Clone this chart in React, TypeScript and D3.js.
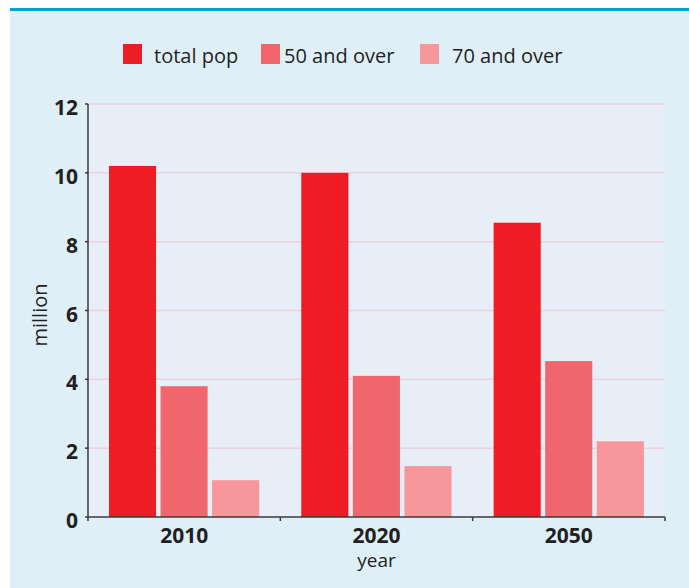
import React from "react";
import * as d3 from "d3";

const years = ["2010", "2020", "2050"];
const seriesNames = ["total pop", "50 and over", "70 and over"];
const totalPop = [10.2, 10.0, 8.55];
const over50 = [3.8, 4.1, 4.53];
const over70 = [1.07, 1.48, 2.2];
const yTicks = [0, 2, 4, 6, 8, 10, 12];
const colors = ["#ee1c25", "#f1666d", "#f7979c"];

const W = 689;
const H = 588;
const plot = { left: 88, right: 665, top: 104, bottom: 517 };
const legendPos = [
  { sx: 123, tx: 154 },
  { sx: 261, tx: 284 },
  { sx: 420, tx: 452 },
];
const FONT = "'Open Sans', 'DejaVu Sans', sans-serif";
const TEXT = "#231f20";
const AXIS = "#3a3a3a";

export default function App() {
  const series = [totalPop, over50, over70];
  const x0 = d3.scaleBand<string>().domain(years).range([plot.left, plot.right]).padding(0);
  const bw = x0.bandwidth();
  const x1 = d3
    .scaleBand<number>()
    .domain([0, 1, 2])
    .range([bw * 0.109, bw * 0.89])
    .paddingInner(0.087)
    .paddingOuter(0);
  const y = d3.scaleLinear().domain([0, 12]).range([plot.bottom, plot.top]);

  const boundaries = [...years.map((d) => x0(d)!), plot.right];

  return (
    <svg
      width={W}
      height={H}
      style={{ position: "absolute", left: 0, top: 0, display: "block" }}
      fontFamily={FONT}
    >
      <rect x={0} y={0} width={W} height={H} fill="#ffffff" />
      <rect x={10} y={8} width={W - 10} height={H - 8} fill="#dfeff8" />
      <rect x={10} y={8} width={W - 10} height={3} fill="#009fda" />

      {/* legend */}
      {seriesNames.map((name, i) => (
        <g key={name}>
          <rect x={legendPos[i].sx} y={44} width={19} height={20} fill={colors[i]} />
          <text x={legendPos[i].tx} y={63} fontSize={20} fill={TEXT}>
            {name}
          </text>
        </g>
      ))}

      {/* plot background */}
      <rect
        x={plot.left}
        y={plot.top}
        width={plot.right - plot.left}
        height={plot.bottom - plot.top}
        fill="#e7eef7"
      />

      {/* gridlines */}
      {yTicks
        .filter((t) => t > 0)
        .map((t) => (
          <line
            key={t}
            x1={plot.left}
            x2={plot.right}
            y1={y(t)}
            y2={y(t)}
            stroke="#ecd2dc"
            strokeWidth={1.5}
          />
        ))}

      {/* bars */}
      {years.map((yr, gi) => (
        <g key={yr} transform={`translate(${x0(yr)},0)`}>
          {series.map((s, si) => (
            <rect
              key={si}
              x={x1(si)}
              y={y(s[gi])}
              width={x1.bandwidth()}
              height={y(0) - y(s[gi])}
              fill={colors[si]}
            />
          ))}
        </g>
      ))}

      {/* y axis */}
      <line x1={plot.left} x2={plot.left} y1={plot.top} y2={plot.bottom} stroke={AXIS} strokeWidth={1.5} />
      {yTicks.map((t) => (
        <g key={t}>
          <line x1={plot.left - 3} x2={plot.left} y1={y(t)} y2={y(t)} stroke={AXIS} strokeWidth={1.5} />
          <text
            x={78}
            y={y(t) + 11}
            textAnchor="end"
            fontSize={21}
            fontWeight={700}
            fill={TEXT}
          >
            {t}
          </text>
        </g>
      ))}

      {/* x axis */}
      <line x1={plot.left} x2={plot.right} y1={plot.bottom} y2={plot.bottom} stroke={AXIS} strokeWidth={1.5} />
      {boundaries.map((b, i) => (
        <line key={i} x1={b} x2={b} y1={plot.bottom} y2={plot.bottom + 4} stroke={AXIS} strokeWidth={1.5} />
      ))}
      {years.map((yr) => (
        <text
          key={yr}
          x={x0(yr)! + bw / 2}
          y={543}
          textAnchor="middle"
          fontSize={21}
          fontWeight={700}
          fill={TEXT}
        >
          {yr}
        </text>
      ))}

      {/* axis titles */}
      <text x={(plot.left + plot.right) / 2} y={567} textAnchor="middle" fontSize={19} fill={TEXT}>
        year
      </text>
      <text
        transform={`translate(47,315) rotate(-90)`}
        textAnchor="middle"
        fontSize={20}
        fill={TEXT}
      >
        million
      </text>
    </svg>
  );
}
